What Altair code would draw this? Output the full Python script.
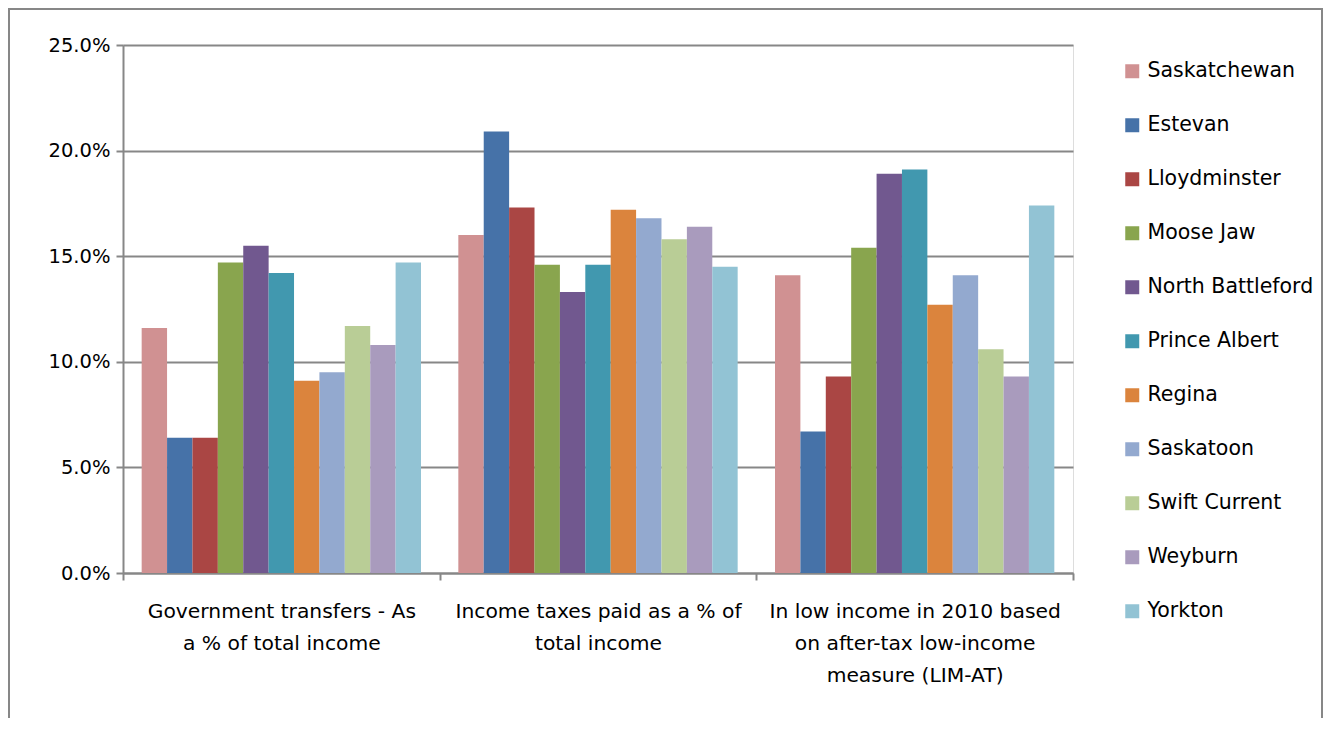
import altair as alt
import pandas as pd

categories = [
    "Government transfers - As a % of total income",
    "Income taxes paid as a % of total income",
    "In low income in 2010 based on after-tax low-income measure (LIM-AT)",
]
category_lines = [
    ["Government transfers - As", "a % of total income"],
    ["Income taxes paid as a % of", "total income"],
    ["In low income in 2010 based", "on after-tax low-income", "measure (LIM-AT)"],
]
cities = [
    "Saskatchewan", "Estevan", "Lloydminster", "Moose Jaw", "North Battleford",
    "Prince Albert", "Regina", "Saskatoon", "Swift Current", "Weyburn", "Yorkton",
]
colors = [
    "#D09192", "#4672A8", "#AA4644", "#89A54E", "#71588F",
    "#4198AF", "#DB843D", "#93A9CF", "#B9CD96", "#A99BBD", "#92C3D4",
]
# values in percent, one list per category, in city order
gov_transfers = [11.6, 6.4, 6.4, 14.7, 15.5, 14.2, 9.1, 9.5, 11.7, 10.8, 14.7]
income_taxes = [16.0, 20.9, 17.3, 14.6, 13.3, 14.6, 17.2, 16.8, 15.8, 16.4, 14.5]
low_income = [14.1, 6.7, 9.3, 15.4, 18.9, 19.1, 12.7, 14.1, 10.6, 9.3, 17.4]

series = [gov_transfers, income_taxes, low_income]
rows = []
for cat, vals in zip(categories, series):
    for city, v in zip(cities, vals):
        rows.append({"category": cat, "city": city, "value": v / 100.0})
df = pd.DataFrame(rows)

label_map = {c: l for c, l in zip(categories, category_lines)}
label_expr = " : ".join(
    [f"datum.label === {repr(c)} ? {l!r}" for c, l in label_map.items()]
) + " : datum.label"
label_expr = label_expr.replace("'", '"')

FONT = "DejaVu Sans"
GRAY = "#878787"

bars = alt.Chart(df).mark_bar().encode(
    x=alt.X(
        "category:N",
        sort=categories,
        scale=alt.Scale(paddingInner=0, paddingOuter=0),
        axis=alt.Axis(
            title=None,
            labelAngle=0,
            labelExpr=label_expr,
            labelFontSize=20.3,
            labelFont=FONT,
            labelColor="#000000",
            labelLineHeight=32,
            labelPadding=21,
            labelBaseline="top",
            labelLimit=0,
            tickBand="extent",
            tickSize=7,
            tickColor=GRAY,
            tickWidth=2,
            domainColor=GRAY,
            domainWidth=2,
            grid=False,
        ),
    ),
    xOffset=alt.XOffset(
        "city:N",
        sort=cities,
        scale=alt.Scale(paddingInner=0, paddingOuter=0.735),
    ),
    y=alt.Y(
        "value:Q",
        scale=alt.Scale(domain=[0, 0.25], nice=False),
        axis=alt.Axis(
            title=None,
            format=".1%",
            values=[0, 0.05, 0.10, 0.15, 0.20, 0.25],
            labelFontSize=19.5,
            labelFont=FONT,
            labelColor="#000000",
            labelPadding=6,
            tickSize=7,
            tickColor=GRAY,
            tickWidth=2,
            domainColor=GRAY,
            domainWidth=2,
            grid=True,
            gridColor=GRAY,
            gridWidth=2,
        ),
    ),
    color=alt.Color(
        "city:N",
        sort=cities,
        scale=alt.Scale(domain=cities, range=colors),
        legend=alt.Legend(
            title=None,
            orient="none",
            legendX=999,
            legendY=16,
            symbolType="square",
            symbolSize=196,
            symbolStrokeWidth=0,
            labelFontSize=20.5,
            labelFont=FONT,
            labelColor="#000000",
            labelOffset=5,
            labelLimit=0,
            rowPadding=33,
            padding=0,
        ),
    ),
)

border = alt.Chart(alt.Data(values=[{}])).mark_rect(
    fillOpacity=0, stroke=GRAY, strokeWidth=2
).encode(
    x=alt.value(-114),
    x2=alt.value(1199),
    y=alt.value(-36),
    y2=alt.value(760),
)

chart = alt.layer(border, bars).properties(
    width=950,
    height=528,
    autosize=alt.AutoSizeParams(type="none"),
    padding={"left": 115, "top": 37, "right": 250, "bottom": 145},
).configure_view(stroke=None).configure(background="white")

chart.save("out.html", embed_options={"renderer": "svg", "actions": False})
